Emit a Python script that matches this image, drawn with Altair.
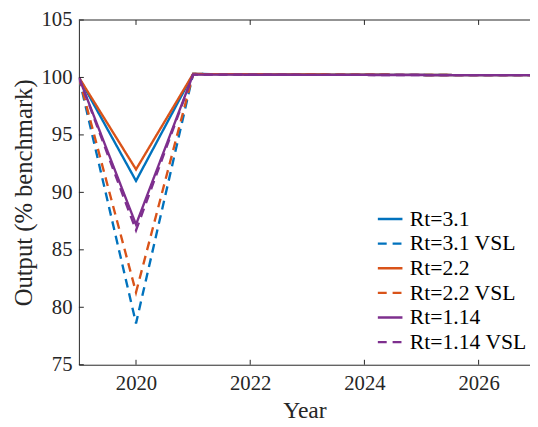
import altair as alt
import pandas as pd

years = [2019, 2020, 2021, 2022, 2023, 2024, 2025, 2026, 2027]
series_names = ["Rt=3.1", "Rt=3.1 VSL", "Rt=2.2", "Rt=2.2 VSL", "Rt=1.14", "Rt=1.14 VSL"]
rt31 = [100, 91.0, 100.3, 100.28, 100.26, 100.24, 100.22, 100.2, 100.2]
rt31_vsl = [100, 78.6, 100.3, 100.28, 100.26, 100.24, 100.22, 100.2, 100.2]
rt22 = [100, 92.0, 100.3, 100.28, 100.26, 100.24, 100.22, 100.2, 100.2]
rt22_vsl = [100, 81.3, 100.3, 100.28, 100.26, 100.24, 100.22, 100.2, 100.2]
rt114 = [100, 87.2, 100.25, 100.24, 100.23, 100.22, 100.21, 100.2, 100.2]
rt114_vsl = [100, 86.7, 100.25, 100.24, 100.23, 100.22, 100.21, 100.2, 100.2]
colors = ["#0072BD", "#0072BD", "#D95319", "#D95319", "#7E2F8E", "#7E2F8E"]
dashes = [[1, 0], [9, 6], [1, 0], [9, 6], [1, 0], [9, 6]]
x_ticks = [2020, 2022, 2024, 2026]
y_ticks = [75, 80, 85, 90, 95, 100, 105]

all_vals = [rt31, rt31_vsl, rt22, rt22_vsl, rt114, rt114_vsl]
rows = []
for i, (name, vals) in enumerate(zip(series_names, all_vals)):
    for y, v in zip(years, vals):
        rows.append({"year": y, "value": v, "series": name, "order": i})
df = pd.DataFrame(rows)

W, H = 458, 350
FONT = "Liberation Serif"
INK = "#262626"

xscale = alt.Scale(domain=[2019, 2026.9], nice=False, zero=False)
yscale = alt.Scale(domain=[75, 105], nice=False, zero=False)

leg = dict(title=None, orient="none", legendX=302, legendY=188,
           symbolType="stroke", symbolSize=625, symbolStrokeWidth=2.4,
           labelFontSize=22, labelFont=FONT, labelColor="#000000",
           rowPadding=0, padding=0, labelOffset=6)

lines = alt.Chart(df).mark_line(strokeWidth=2.4, clip=True).encode(
    x=alt.X("year:Q", scale=xscale,
            axis=alt.Axis(values=x_ticks, format="d", title="Year", tickSize=0,
                          labelPadding=8, titlePadding=6, labelFont=FONT, titleFont=FONT)),
    y=alt.Y("value:Q", scale=yscale,
            axis=alt.Axis(values=y_ticks, title="Output (% benchmark)", tickSize=0,
                          labelPadding=7, titlePadding=5, labelFont=FONT, titleFont=FONT,
                          titleFontSize=25)),
    color=alt.Color("series:N", scale=alt.Scale(domain=series_names, range=colors),
                    legend=alt.Legend(**leg)),
    strokeDash=alt.StrokeDash("series:N", scale=alt.Scale(domain=series_names, range=dashes),
                              legend=alt.Legend(**leg)),
    order=alt.Order("order:Q"),
    detail="series:N",
)

xt = pd.DataFrame({"t": x_ticks})
yt = pd.DataFrame({"t": y_ticks})
tick_style = dict(color=INK, strokeWidth=1)
xb = alt.Chart(xt).mark_rule(**tick_style).encode(
    x=alt.X("t:Q", scale=xscale), y=alt.value(H), y2=alt.value(H - 5))
xtop = alt.Chart(xt).mark_rule(**tick_style).encode(
    x=alt.X("t:Q", scale=xscale), y=alt.value(0), y2=alt.value(5))
yl = alt.Chart(yt).mark_rule(**tick_style).encode(
    y=alt.Y("t:Q", scale=yscale), x=alt.value(0), x2=alt.value(5))
top = alt.Chart(pd.DataFrame({"a": [0]})).mark_rule(**tick_style).encode(
    x=alt.value(0), x2=alt.value(W), y=alt.value(0))

chart = alt.layer(lines, xb, xtop, yl, top).properties(
    width=W, height=H,
    autosize=alt.AutoSizeParams(type="none"),
    padding={"left": 72, "top": 9, "right": 0, "bottom": 58},
).configure(font=FONT).configure_view(stroke=None).configure_axis(
    grid=False, domainColor=INK, domainWidth=1, labelColor=INK, titleColor=INK,
    labelFont=FONT, titleFont=FONT, labelFontSize=21, titleFontSize=24,
    titleFontWeight="normal",
).configure_legend(labelFont=FONT)

chart.save("out.html", embed_options={"renderer": "svg", "actions": False})
